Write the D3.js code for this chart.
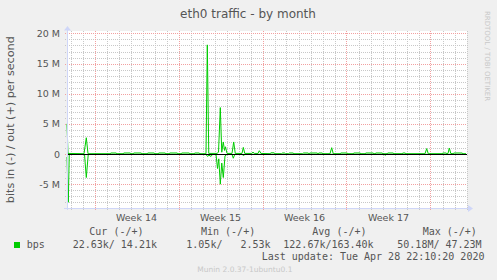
<!DOCTYPE html>
<html lang="en">
<head>
<meta charset="utf-8">
<title>eth0 traffic - by month</title>
<script src="https://d3js.org/d3.v7.min.js"></script>
<style>
  body { margin: 0; background: #f0f0f0; }
  text { font-family: "DejaVu Sans", sans-serif; fill: #555; }
  .mono { font-family: "DejaVu Sans Mono", monospace; font-size: 10px; white-space: pre; }
</style>
</head>
<body>
<script>
// hours since graph start (2 h per pixel), values in M bits/s
var outSeries = [
  [0, 5.0], [2, 0.1], [34, 0.05], [38.6, 2.7], [42, 0.05],
  [86, 0.05], [88, 0.17], [98, 0.17], [100, 0.05],
  [112, 0.05], [114, 0.17], [126, 0.17], [128, 0.05],
  [132, 0.05], [134, 0.17], [148, 0.17], [150, 0.05],
  [160, 0.05], [162, 0.17], [174, 0.17], [176, 0.05],
  [182, 0.05], [184, 0.17], [196, 0.17], [198, 0.05],
  [204, 0.05], [206, 0.17], [220, 0.17], [222, 0.05],
  [228, 0.05], [230, 0.17], [244, 0.17], [246, 0.05],
  [254, 0.05], [256, 0.17], [264, 0.17], [266, 0.05],
  [278, 0.05], [280.6, 18.1], [283.5, 0.1],
  [300, 0.1], [303, 0.3], [306.6, 7.7], [309.5, 0.3], [312.5, 2.0], [315, 0.6], [317, 1.2], [320, 0.1],
  [330, 0.1], [333.4, 2.0], [336.5, 0.1],
  [350, 0.1], [352.6, 1.1], [355.5, 0.1],
  [369, 0.1], [372, 0.3], [375, 0.1],
  [382, 0.1], [384.6, 0.55], [388, 0.1],
  [406, 0.05], [408, 0.2], [414, 0.2], [416, 0.05],
  [429, 0.05], [431, 0.17], [435, 0.17], [437, 0.05],
  [443, 0.05], [445, 0.17], [452, 0.17], [454, 0.05],
  [471, 0.05], [473, 0.17], [482, 0.17], [484, 0.05],
  [486, 0.17], [500, 0.17], [502, 0.05], [504, 0.17], [510, 0.17], [512, 0.05],
  [526, 0.05], [529.4, 1.05], [532.5, 0.05],
  [546, 0.05], [548, 0.17], [560, 0.17], [562, 0.05],
  [572, 0.05], [574, 0.17], [586, 0.17], [588, 0.05],
  [596, 0.05], [598, 0.17], [612, 0.17], [614, 0.05],
  [616, 0.05], [618, 0.17], [630, 0.17], [632, 0.05],
  [640, 0.05], [642, 0.17], [652, 0.17], [654, 0.05],
  [670, 0.05], [672, 0.17], [676, 0.17], [678, 0.05],
  [716, 0.05], [719.4, 0.9], [722.5, 0.05],
  [750, 0.05], [752, 0.17], [758, 0.17], [760, 0.05],
  [762, 0.1], [764.6, 1.0], [767.5, 0.1],
  [772, 0.05], [774, 0.17], [790, 0.17], [792, 0.05],
  [798, 0.05]
];
var inSeries = [
  [0, -0.5], [2.6, -8.0], [4.5, -0.05],
  [35, -0.05], [38.6, -3.9], [42.5, -0.05],
  [278, -0.05], [281, -0.4], [284, -0.2], [288, -0.4], [291, -0.05],
  [298, -0.05], [301, -2.4], [303.5, -0.8], [306.6, -5.0], [309.5, -1.5], [312.6, -3.9], [316, -0.3], [320, -0.05],
  [330, -0.05], [332.6, -0.7], [335.5, -0.05],
  [350, -0.05], [353, -0.25], [356, -0.05],
  [634, -0.05], [636.6, -0.2], [639, -0.05],
  [798, -0.05]
];
var yTicks = [-5, 0, 5, 10, 15, 20];
var yTickLabels = ["-5 M", "0", "5 M", "10 M", "15 M", "20 M"];
var weekLines = [55, 223, 391, 559, 727];
var weekLabelPos = [139, 307, 475, 643];
var weekLabels = ["Week 14", "Week 15", "Week 16", "Week 17"];
var legendHeads = ["Cur (-/+)", "Min (-/+)", "Avg (-/+)", "Max (-/+)"];
var legendValues = ["22.63k/ 14.21k", "1.05k/   2.53k", "122.67k/163.40k", "50.18M/ 47.23M"];

var W = 497, H = 280;
var svg = d3.select("body").append("svg").attr("width", W).attr("height", H);

var x = d3.scaleLinear().domain([0, 800]).range([67, 467]);
var y = d3.scaleLinear().domain([-9, 20.4]).range([208.3, 31]);

// canvas
svg.append("rect").attr("x", 67).attr("y", 31).attr("width", 400).attr("height", 177.3).attr("fill", "#fff");

// minor grid
var minorY = d3.range(-8, 21, 1).filter(function(v) { return v % 5 != 0; });
svg.selectAll(".gy").data(minorY).enter().append("line")
   .attr("x1", 65).attr("x2", 467)
   .attr("y1", function(d) { return Math.round(y(d)) + 0.5; })
   .attr("y2", function(d) { return Math.round(y(d)) + 0.5; })
   .attr("stroke", "#c8c8c8").attr("stroke-dasharray", "1,1");
var dayLines = d3.range(7, 800, 24);
svg.selectAll(".gx").data(dayLines).enter().append("line")
   .attr("x1", function(d) { return Math.round(x(d)) + 0.5; })
   .attr("x2", function(d) { return Math.round(x(d)) + 0.5; })
   .attr("y1", 31).attr("y2", 210)
   .attr("stroke", "#c8c8c8").attr("stroke-dasharray", "1,1");

// major grid
svg.selectAll(".my").data(yTicks).enter().append("line")
   .attr("x1", 65).attr("x2", 467)
   .attr("y1", function(d) { return Math.round(y(d)) + 0.5; })
   .attr("y2", function(d) { return Math.round(y(d)) + 0.5; })
   .attr("stroke", "#f2a0a0").attr("stroke-dasharray", "1,1");
svg.selectAll(".mx").data(weekLines).enter().append("line")
   .attr("x1", function(d) { return Math.round(x(d)) + 0.5; })
   .attr("x2", function(d) { return Math.round(x(d)) + 0.5; })
   .attr("y1", 31).attr("y2", 210)
   .attr("stroke", "#f2a0a0").attr("stroke-dasharray", "1,1");

// data lines
var line = d3.line().x(function(d) { return x(d[0]); }).y(function(d) { return y(d[1]); });
svg.append("path").datum(inSeries).attr("d", line)
   .attr("fill", "none").attr("stroke", "#00cc00").attr("stroke-width", 1);
svg.append("path").datum(outSeries).attr("d", line)
   .attr("fill", "none").attr("stroke", "#00cc00").attr("stroke-width", 1);

// zero rule
svg.append("line").attr("x1", 67).attr("x2", 467)
   .attr("y1", Math.round(y(0)) + 0.5).attr("y2", Math.round(y(0)) + 0.5)
   .attr("stroke", "#000");

// axes
var axisCol = "#cfd6f8";
svg.append("line").attr("x1", 67.5).attr("x2", 67.5).attr("y1", 210).attr("y2", 29)
   .attr("stroke", axisCol);
svg.append("path").attr("d", "M64,30.5L67.5,26L71,30.5Z").attr("fill", axisCol);
svg.append("line").attr("x1", 64).attr("x2", 469).attr("y1", 208.5).attr("y2", 208.5)
   .attr("stroke", axisCol);
svg.append("path").attr("d", "M468,205L473,208.5L468,212Z").attr("fill", axisCol);

// tick labels
svg.selectAll(".yl").data(yTicks).enter().append("text")
   .attr("x", 60).attr("y", function(d) { return y(d) + 3.5; })
   .attr("text-anchor", "end").attr("font-size", "9.5px")
   .text(function(d, i) { return yTickLabels[i]; });
svg.selectAll(".xl").data(weekLabelPos).enter().append("text")
   .attr("x", function(d) { return x(d); }).attr("y", 220.5)
   .attr("text-anchor", "middle").attr("font-size", "9.5px")
   .text(function(d, i) { return weekLabels[i]; });

// titles
svg.append("text").attr("x", 248).attr("y", 18).attr("text-anchor", "middle")
   .attr("font-size", "12px").text("eth0 traffic - by month");
svg.append("text").attr("transform", "translate(13.5,119.7) rotate(-90)")
   .attr("text-anchor", "middle").attr("font-size", "11.2px")
   .text("bits in (-) / out (+) per second");
svg.append("text").attr("transform", "translate(485,56) rotate(90)")
   .attr("text-anchor", "middle").attr("font-size", "7px").style("fill", "#c8c8c8")
   .text("RRDTOOL / TOBI OETIKER");

// legend
var headX = [89.3, 201, 312.3, 422.7];
var valX = [72.7, 186.3, 283.3, 397.3];
svg.selectAll(".lh").data(legendHeads).enter().append("text")
   .attr("class", "mono").attr("x", function(d, i) { return headX[i]; }).attr("y", 235)
   .text(function(d) { return d; });
svg.append("rect").attr("x", 14).attr("y", 242).attr("width", 6).attr("height", 6).attr("fill", "#00cc00");
svg.append("text").attr("class", "mono").attr("x", 26.7).attr("y", 247.5).text("bps");
svg.selectAll(".lv").data(legendValues).enter().append("text")
   .attr("class", "mono").attr("x", function(d, i) { return valX[i]; }).attr("y", 247.5)
   .text(function(d) { return d; });
svg.append("text").attr("class", "mono").attr("x", 261.7).attr("y", 259.5)
   .text("Last update: Tue Apr 28 22:10:20 2020");
svg.append("text").attr("x", 197.3).attr("y", 272).attr("font-size", "7.5px").style("fill", "#c8c8c8")
   .text("Munin 2.0.37-1ubuntu0.1");
</script>
</body>
</html>
